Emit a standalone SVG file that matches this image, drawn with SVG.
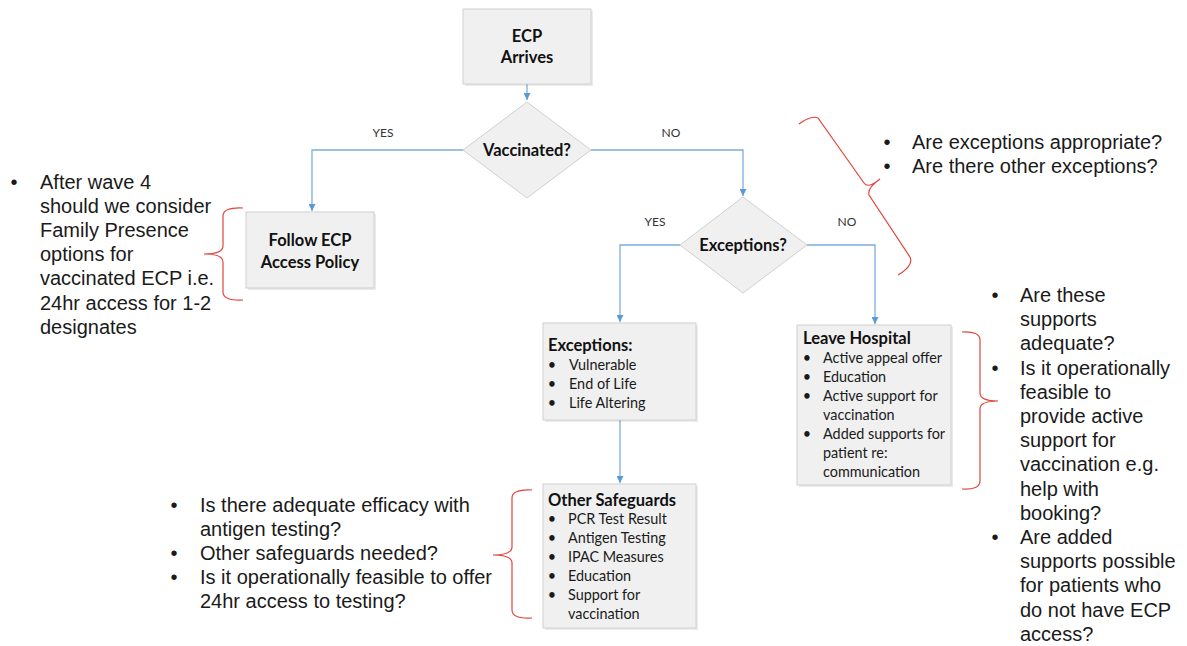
<svg xmlns="http://www.w3.org/2000/svg" width="1187" height="646" viewBox="0 0 1187 646">
<style>
.box{fill:#f0f0f0;stroke:#d0d0d0;stroke-width:1}
.sh{fill:#000;opacity:0.08}
.tb{font-family:Lato,"Open Sans",sans-serif;font-weight:bold;font-size:16.5px;fill:#111}
.li{font-family:Lato,"Open Sans",sans-serif;font-size:14.4px;fill:#1a1a1a}
.lbl{font-family:Lato,"Open Sans",sans-serif;font-size:12px;fill:#333}
.ann{font-family:"Liberation Sans",Arial,sans-serif;font-size:20px;fill:#1a1a1a}
.con{fill:none;stroke:#7eaddc;stroke-width:1.3}
.br{fill:none;stroke:#e0453c;stroke-width:1.2}
</style>
<defs>
<marker id="ah" viewBox="0 0 10 10" refX="10" refY="5" markerWidth="7" markerHeight="7" orient="auto" markerUnits="userSpaceOnUse">
<path d="M0,0 L10,5 L0,10 z" fill="#5b9bd5"/>
</marker>
</defs>
<rect width="1187" height="646" fill="#fff"/>

<g id="connectors">
<path class="con" d="M527,84 L527,100" marker-end="url(#ah)"/>
<path class="con" d="M463,150 L312,150 L312,211" marker-end="url(#ah)"/>
<path class="con" d="M591,150 L743,150 L743,196" marker-end="url(#ah)"/>
<path class="con" d="M680,245 L620,245 L620,322" marker-end="url(#ah)"/>
<path class="con" d="M807,245 L875,245 L875,324" marker-end="url(#ah)"/>
<path class="con" d="M620,420 L620,483" marker-end="url(#ah)"/>
<text class="lbl" x="383" y="137" text-anchor="middle">YES</text>
<text class="lbl" x="671" y="137" text-anchor="middle">NO</text>
<text class="lbl" x="655" y="226" text-anchor="middle">YES</text>
<text class="lbl" x="847" y="226" text-anchor="middle">NO</text>
</g>

<g id="ecp-arrives">
<rect class="sh" x="465" y="11" width="128" height="75"/>
<rect class="box" x="463" y="9" width="128" height="75"/>
<text class="tb" x="527" y="42" text-anchor="middle">ECP</text>
<text class="tb" x="527" y="63" text-anchor="middle">Arrives</text>
</g>

<g id="vaccinated">
<polygon class="box" points="527,102 591,150 527,198 463,150"/>
<text class="tb" x="527" y="156" text-anchor="middle">Vaccinated?</text>
</g>

<g id="follow-ecp">
<rect class="sh" x="248" y="214" width="128" height="76"/>
<rect class="box" x="246" y="212" width="128" height="76"/>
<text class="tb" x="310" y="246" text-anchor="middle">Follow ECP</text>
<text class="tb" x="310" y="268" text-anchor="middle">Access Policy</text>
</g>

<g id="exceptions-decision">
<polygon class="box" points="743,197 807,245 743,293 680,245"/>
<text class="tb" x="743" y="251" text-anchor="middle">Exceptions?</text>
</g>

<g id="exceptions-box">
<rect class="sh" x="545" y="325" width="153" height="97"/>
<rect class="box" x="543" y="323" width="153" height="97"/>
<text class="tb" x="548" y="351">Exceptions:</text>
<g class="li">
<text x="552" y="370" text-anchor="middle">•</text><text x="569" y="370">Vulnerable</text>
<text x="552" y="389" text-anchor="middle">•</text><text x="569" y="389">End of Life</text>
<text x="552" y="408" text-anchor="middle">•</text><text x="569" y="408">Life Altering</text>
</g>
</g>

<g id="leave-hospital">
<rect class="sh" x="799" y="327" width="154" height="160"/>
<rect class="box" x="797" y="325" width="154" height="160"/>
<text class="tb" x="803" y="344">Leave Hospital</text>
<g class="li">
<text x="807" y="363" text-anchor="middle">•</text><text x="823" y="363">Active appeal offer</text>
<text x="807" y="382" text-anchor="middle">•</text><text x="823" y="382">Education</text>
<text x="807" y="401" text-anchor="middle">•</text><text x="823" y="401">Active support for</text>
<text x="823" y="420">vaccination</text>
<text x="807" y="439" text-anchor="middle">•</text><text x="823" y="439">Added supports for</text>
<text x="823" y="458">patient re:</text>
<text x="823" y="477">communication</text>
</g>
</g>

<g id="other-safeguards">
<rect class="sh" x="545" y="486" width="153" height="144"/>
<rect class="box" x="543" y="484" width="153" height="144"/>
<text class="tb" x="548" y="506">Other Safeguards</text>
<g class="li">
<text x="552" y="524" text-anchor="middle">•</text><text x="568" y="524">PCR Test Result</text>
<text x="552" y="543" text-anchor="middle">•</text><text x="568" y="543">Antigen Testing</text>
<text x="552" y="562" text-anchor="middle">•</text><text x="568" y="562">IPAC Measures</text>
<text x="552" y="581" text-anchor="middle">•</text><text x="568" y="581">Education</text>
<text x="552" y="600" text-anchor="middle">•</text><text x="568" y="600">Support for</text>
<text x="568" y="619">vaccination</text>
</g>
</g>

<g id="note-left">
<path class="br" d="M243,208 Q223,207 223,216 L223,246 Q223,254 204,254 Q223,254 223,262 L223,292 Q223,301 243,300"/>
<g class="ann">
<text x="14" y="188.5" text-anchor="middle">•</text>
<text x="40" y="188.5">After wave 4</text>
<text x="40" y="212.7">should we consider</text>
<text x="40" y="236.9">Family Presence</text>
<text x="40" y="261.1">options for</text>
<text x="40" y="285.3">vaccinated ECP i.e.</text>
<text x="40" y="309.5">24hr access for 1-2</text>
<text x="40" y="333.7">designates</text>
</g>
</g>

<g id="note-top-right">
<path class="br" d="M799,124 Q811,115 818,118 L864,183 Q868,189 880,179 Q867,188 869,195 L910,257 Q914,266 898,275"/>
<g class="ann">
<text x="887" y="149" text-anchor="middle">•</text><text x="912" y="149">Are exceptions appropriate?</text>
<text x="887" y="173" text-anchor="middle">•</text><text x="912" y="173">Are there other exceptions?</text>
</g>
</g>

<g id="note-right">
<path class="br" d="M962,332 Q980,331 980,340 L980,393 Q980,401 998,401 Q980,401 980,409 L980,481 Q980,490 962,489"/>
<g class="ann">
<text x="995" y="302" text-anchor="middle">•</text><text x="1020" y="302">Are these</text>
<text x="1020" y="326.2">supports</text>
<text x="1020" y="350.4">adequate?</text>
<text x="995" y="374.6" text-anchor="middle">•</text><text x="1020" y="374.6">Is it operationally</text>
<text x="1020" y="398.8">feasible to</text>
<text x="1020" y="423">provide active</text>
<text x="1020" y="447.2">support for</text>
<text x="1020" y="471.4">vaccination e.g.</text>
<text x="1020" y="495.6">help with</text>
<text x="1020" y="519.8">booking?</text>
<text x="995" y="544" text-anchor="middle">•</text><text x="1020" y="544">Are added</text>
<text x="1020" y="568.2">supports possible</text>
<text x="1020" y="592.4">for patients who</text>
<text x="1020" y="616.6">do not have ECP</text>
<text x="1020" y="640.8">access?</text>
</g>
</g>

<g id="note-bottom-left">
<path class="br" d="M532,490 Q512,489 512,498 L512,547 Q512,555 493,555 Q512,555 512,563 L512,610 Q512,619 532,618"/>
<g class="ann">
<text x="174" y="512" text-anchor="middle">•</text><text x="200" y="512">Is there adequate efficacy with</text>
<text x="200" y="536">antigen testing?</text>
<text x="174" y="560" text-anchor="middle">•</text><text x="200" y="560">Other safeguards needed?</text>
<text x="174" y="584" text-anchor="middle">•</text><text x="200" y="584">Is it operationally feasible to offer</text>
<text x="200" y="608">24hr access to testing?</text>
</g>
</g>
</svg>
